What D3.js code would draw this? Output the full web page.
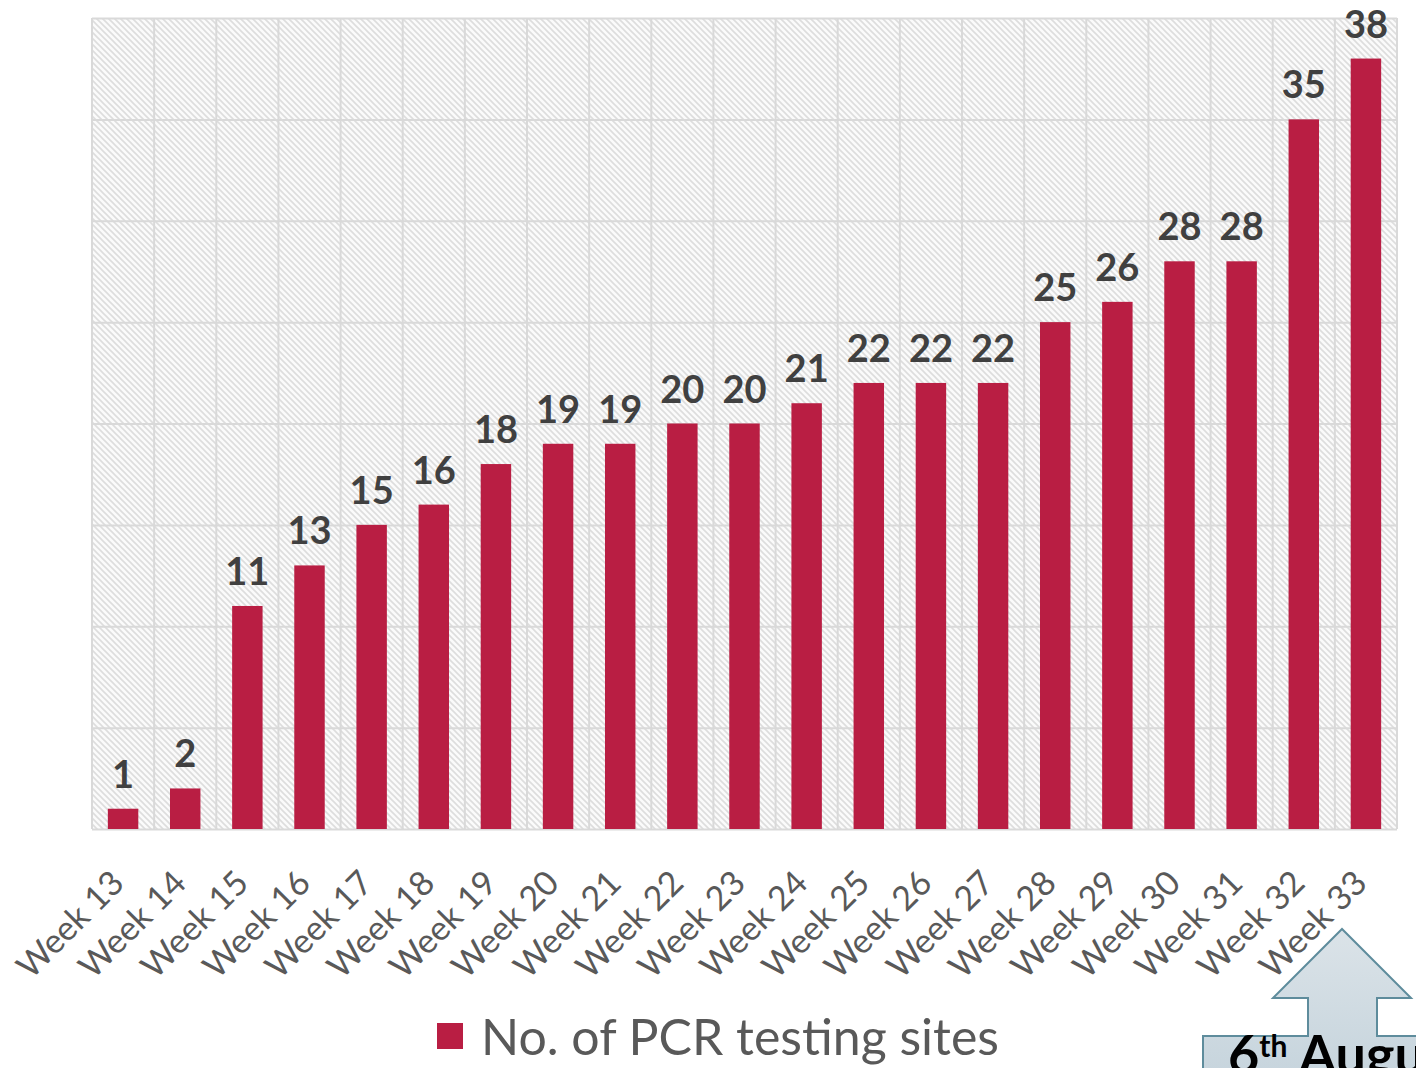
<!DOCTYPE html>
<html>
<head>
<meta charset="utf-8">
<script src="https://cdn.jsdelivr.net/npm/d3@7"></script>
<style>
  body { margin: 0; background: #fff; }
  svg { display: block; font-family: Lato, "Open Sans", sans-serif; }
</style>
</head>
<body>
<script>
// PCR testing sites per week

const weeks = ['Week 13', 'Week 14', 'Week 15', 'Week 16', 'Week 17', 'Week 18', 'Week 19',
  'Week 20', 'Week 21', 'Week 22', 'Week 23', 'Week 24', 'Week 25', 'Week 26', 'Week 27',
  'Week 28', 'Week 29', 'Week 30', 'Week 31', 'Week 32', 'Week 33'];
const sites = [1, 2, 11, 13, 15, 16, 18, 19, 19, 20, 20, 21, 22, 22, 22, 25, 26, 28, 28, 35, 38];
const yTicks = [0, 5, 10, 15, 20, 25, 30, 35, 40];
const seriesName = 'No. of PCR testing sites';
const noteText = '6th August';

const svgWidth = 1416;
const svgHeight = 1068;
const plotLeft = 92, plotRight = 1397, plotTop = 18, plotBottom = 829;
const barColor = '#b91e43';
const gridColor = '#d9d9d9';

const svg = d3.select('body').append('svg')
  .attr('width', svgWidth)
  .attr('height', svgHeight);

const defs = svg.append('defs');
const hatch = defs.append('pattern')
  .attr('id', 'hatch')
  .attr('patternUnits', 'userSpaceOnUse')
  .attr('width', 6)
  .attr('height', 6);
hatch.append('rect').attr('width', 6).attr('height', 6).attr('fill', '#fbfbfb');
hatch.append('path')
  .attr('d', 'M-1,-1 L7,7 M-1,5 L1,7 M5,-1 L7,1')
  .attr('stroke', '#dddddd')
  .attr('stroke-width', 1.6);

const grad = defs.append('linearGradient')
  .attr('id', 'arrowGrad')
  .attr('x1', 0).attr('y1', 0).attr('x2', 0).attr('y2', 1);
grad.append('stop').attr('offset', '0%').attr('stop-color', '#dbe3e8');
grad.append('stop').attr('offset', '100%').attr('stop-color', '#c3d2db');

const xScale = d3.scaleBand()
  .domain(weeks)
  .range([plotLeft, plotRight])
  .padding(0);

const yScale = d3.scaleLinear()
  .domain([0, 40])
  .range([plotBottom, plotTop]);

// background
svg.append('rect')
  .attr('x', plotLeft).attr('y', plotTop)
  .attr('width', plotRight - plotLeft).attr('height', plotBottom - plotTop)
  .attr('fill', 'url(#hatch)');

// horizontal grid
const yGrid = d3.axisLeft(yScale)
  .tickValues(yTicks)
  .tickSize(-(plotRight - plotLeft))
  .tickFormat('');
svg.append('g')
  .attr('transform', `translate(${plotLeft},0)`)
  .call(yGrid)
  .call(g => g.select('.domain').remove())
  .call(g => g.selectAll('line').attr('stroke', gridColor).attr('stroke-width', 2));

// vertical grid at category boundaries
svg.append('g')
  .selectAll('line')
  .data(weeks.concat(['end']))
  .enter()
  .append('line')
  .attr('x1', d => d === 'end' ? plotRight : xScale(d))
  .attr('x2', d => d === 'end' ? plotRight : xScale(d))
  .attr('y1', plotTop)
  .attr('y2', plotBottom)
  .attr('stroke', gridColor)
  .attr('stroke-width', 2);

// bars
const bw = xScale.bandwidth();
svg.append('g')
  .selectAll('rect')
  .data(sites)
  .enter()
  .append('rect')
  .attr('x', (d, i) => xScale(weeks[i]) + bw * 0.255)
  .attr('width', bw * 0.49)
  .attr('y', d => yScale(d))
  .attr('height', d => yScale(0) - yScale(d))
  .attr('fill', barColor);

// value labels
svg.append('g')
  .selectAll('text')
  .data(sites)
  .enter()
  .append('text')
  .text(d => d)
  .attr('x', (d, i) => xScale(weeks[i]) + bw / 2)
  .attr('y', d => yScale(d) - 21)
  .attr('text-anchor', 'middle')
  .attr('font-size', 38)
  .attr('font-weight', 'bold')
  .attr('fill', '#404040');

// x axis labels
const xAxis = d3.axisBottom(xScale).tickSize(0);
svg.append('g')
  .attr('transform', `translate(0,${plotBottom})`)
  .call(xAxis)
  .call(g => g.select('.domain').remove())
  .call(g => g.selectAll('text')
    .attr('x', 0).attr('y', 0).attr('dy', 0)
    .attr('transform', 'translate(3,56) rotate(-45)')
    .attr('text-anchor', 'end')
    .attr('font-family', 'Lato, sans-serif')
    .attr('font-size', 34)
    .attr('fill', '#595959'));

// legend
svg.append('rect')
  .attr('x', 437).attr('y', 1023)
  .attr('width', 26).attr('height', 26)
  .attr('fill', barColor);
svg.append('text')
  .attr('x', 481).attr('y', 1055)
  .attr('font-size', 50)
  .attr('fill', '#595959')
  .text(seriesName);

// arrow callout
svg.append('path')
  .attr('d', 'M1203,1036 L1308,1036 L1308,998 L1273,998 L1342,929 L1411,998 L1377,998 L1377,1036 L1430,1036 L1430,1100 L1203,1100 Z')
  .attr('fill', 'url(#arrowGrad)')
  .attr('stroke', '#5e8c9c')
  .attr('stroke-width', 2);
const note = svg.append('text')
  .attr('x', 1228).attr('y', 1074)
  .attr('font-size', 54)
  .attr('font-weight', 'bold')
  .attr('fill', '#000');
note.append('tspan').text(noteText.slice(0, 1));
note.append('tspan').attr('font-size', 30).attr('dy', -17).text(noteText.slice(1, 3));
note.append('tspan').attr('dy', 17).text(' ' + noteText.slice(4));
</script>
</body>
</html>
